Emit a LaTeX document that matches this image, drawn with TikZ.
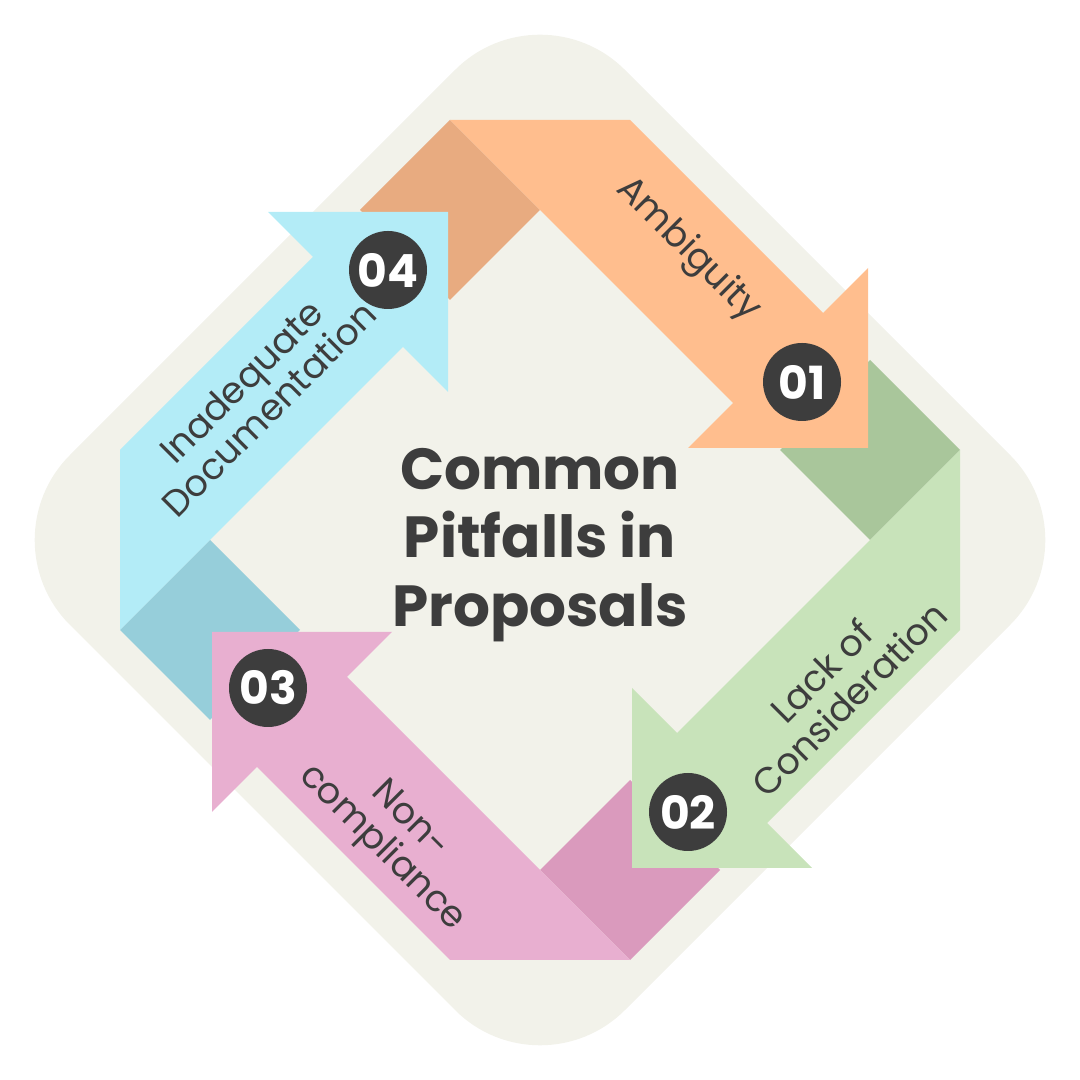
\documentclass[tikz,border=0pt]{standalone}
\usepackage{fontspec}
\setmainfont{Poppins}
\definecolor{bgc}{HTML}{F2F2EA}
\definecolor{txt}{HTML}{3D3D3D}
\definecolor{orng}{HTML}{FFBE8E}
\definecolor{orngd}{HTML}{E8AB80}
\definecolor{grn}{HTML}{C8E3BA}
\definecolor{grnd}{HTML}{A9C69B}
\definecolor{pnk}{HTML}{E8AFD0}
\definecolor{pnkd}{HTML}{DA9ABD}
\definecolor{blu}{HTML}{B3ECF7}
\definecolor{blud}{HTML}{96CEDA}

\tikzstyle{num} = [circle, fill=txt, minimum size=0.78cm, inner sep=0pt, text=white, font=\fontsize{13}{13}\selectfont\bfseries]
\tikzstyle{lbl} = [text=txt, align=center, font=\fontsize{10.4}{11.2}\selectfont\mdseries]

% folded piece and arrow body, drawn in the frame of arrow 01
\newcommand{\foldpiece}[2]{%
\fill[#2, rotate around={#1:(5.4,5.4)}] (4.5,9.6) -- (5.4,8.7) -- (4.5,7.8) -- (3.6,8.7) -- cycle;}
\newcommand{\arrowbody}[2]{%
\fill[#2, rotate around={#1:(5.4,5.4)}] (4.5,9.6) -- (6.3,9.6) -- (8.23,7.67) -- (8.68,8.12)
  -- (8.68,6.32) -- (6.88,6.32) -- (7.33,6.77) -- (5.4,8.7) -- cycle;}

\begin{document}
\begin{tikzpicture}
\useasboundingbox (0,0) rectangle (10.8,10.8);
\fill[bgc, rounded corners=1.2cm] (5.4,10.95) -- (10.95,5.4) -- (5.4,-0.15) -- (-0.15,5.4) -- cycle;

\foldpiece{0}{orngd}
\foldpiece{-90}{grnd}
\foldpiece{-180}{pnkd}
\foldpiece{-270}{blud}
\arrowbody{0}{orng}
\arrowbody{-90}{grn}
\arrowbody{-180}{pnk}
\arrowbody{-270}{blu}

\node[num] (n1) at (8.02,6.98) {01};
\node[num] (n2) at (6.88,2.68) {02};
\node[num] (n3) at (2.68,3.92) {03};
\node[num] (n4) at (3.88,8.1) {04};

\node[lbl, rotate=-45] (l1) at (6.88,8.3) {Ambiguity};
\node[lbl, rotate=45] (l2) at (8.35,3.95) {Lack of\\Consideration};
\node[lbl, rotate=-45] (l3) at (3.95,2.45) {Non-\\compliance};
\node[lbl, rotate=45] (l4) at (2.55,6.85) {Inadequate\\Documentation};

\node[text=txt, align=center, font=\fontsize{16.5}{19.5}\selectfont\bfseries] (title) at (5.4,5.35)
{Common\\Pitfalls in\\Proposals};
\end{tikzpicture}
\end{document}
